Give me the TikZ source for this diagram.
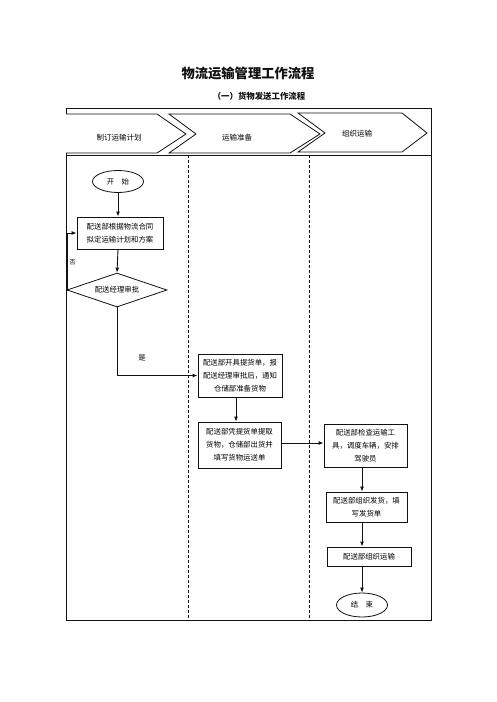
\documentclass[tikz,border=0pt]{standalone}
\usepackage{fontspec}
\usepackage{xcolor}
\usepackage{tikz}
\usetikzlibrary{shapes.geometric,arrows.meta,positioning,calc}
\newfontfamily\cjk{Noto Sans CJK SC}
\definecolor{FlowInk}  {HTML}{111111}
\definecolor{FlowWhite}{HTML}{FFFFFF}

\begin{document}
\begin{tikzpicture}[x=1pt,y=-1pt,
    stepbox/.style={draw=FlowInk,line width=0.9pt,fill=FlowWhite,align=center,
      font=\cjk\fontsize{7.4}{13}\selectfont,inner sep=1pt},
    termbox/.style={ellipse,draw=FlowInk,line width=0.8pt,fill=FlowWhite,inner sep=0pt,
      minimum width=51pt,minimum height=22pt,font=\cjk\fontsize{7.4}{9}\selectfont},
    checkbox/.style={diamond,draw=FlowInk,line width=0.8pt,fill=FlowWhite,aspect=2.9,inner sep=0pt,
      minimum width=100pt,minimum height=34pt,font=\cjk\fontsize{7.4}{9}\selectfont},
    flow/.style={draw=FlowInk,line width=0.9pt,-{Latex[length=5pt,width=4pt]}},
    lane/.style={draw=FlowInk,line width=0.8pt,dash pattern=on 3pt off 2pt},
    chev/.style={draw=FlowInk,line width=0.8pt,fill=FlowWhite}]
  \useasboundingbox (0,0) rectangle (496,702);
  % Title
  \node[font=\cjk\bfseries\fontsize{13.3}{15}\selectfont,text=FlowInk] (title) at (248,73) {物流运输管理工作流程};
  \node[font=\cjk\bfseries\fontsize{8.4}{10}\selectfont,text=FlowInk] (subtitle) at (259,96) {（一）货物发送工作流程};
  % Frame and lanes
  \draw[FlowInk,line width=0.9pt] (66,108) rectangle (431,620);
  \draw[FlowInk,line width=0.9pt] (66,155) -- (431,155);
  \draw[lane] (188,155) -- (188,620);
  \draw[lane] (309,155) -- (309,620);
  % Lane headers
  \draw[chev] (66,114) -- (157,114) -- (186,134) -- (157,153) -- (66,153);
  \draw[chev] (169,114) -- (290,114) -- (320,134) -- (290,153) -- (169,153) -- (196,134) -- cycle;
  \draw[chev] (298,113) -- (402,113) -- (427,133) -- (402,152) -- (298,152) -- (325,133) -- cycle;
  \node[font=\cjk\fontsize{7.5}{9}\selectfont] (hplan) at (119,138) {制订运输计划};
  \node[font=\cjk\fontsize{7.5}{9}\selectfont] (hprep) at (237,138) {运输准备};
  \node[font=\cjk\fontsize{7.5}{9}\selectfont] (hrun)  at (357,134) {组织运输};
  % Steps
  \node[termbox] (start) at (118,181.5) {开\quad 始};
  \node[stepbox,minimum width=86pt,minimum height=32pt] (plan) at (120,233)
    {配送部根据物流合同\\拟定运输计划和方案};
  \node[checkbox] (approve) at (117,290) {配送经理审批};
  \node[stepbox,minimum width=84pt,minimum height=43pt] (order) at (240,375.5)
    {配送部开具提货单，报\\配送经理审批后，通知\\仓储部准备货物};
  \node[stepbox,minimum width=83pt,minimum height=46pt] (pick) at (239.5,445)
    {配送部凭提货单提取\\货物，仓储部出货并\\填写货物运送单};
  \node[stepbox,minimum width=83pt,minimum height=43pt] (check) at (365.5,445.5)
    {配送部检查运输工\\具，调度车辆，安排\\驾驶员};
  \node[stepbox,minimum width=81pt,minimum height=30pt] (ship) at (366.5,507)
    {配送部组织发货，填\\写发货单};
  \node[stepbox,minimum width=84pt,minimum height=19pt] (haul) at (369,556.5)
    {配送部组织运输};
  \node[termbox,minimum height=24pt] (stop) at (362,605) {结\quad 束};
  % Connectors
  \draw[flow] (start.south) -- (plan.north -| start);
  \draw[flow] (plan.south -| start) -- (approve.north);
  \draw[flow] (approve.west) -- ++(1,0) |- (plan.west);
  \node[font=\cjk\fontsize{6}{7}\selectfont] (no) at (72.5,262) {否};
  \draw[flow] (approve.south) |- (order.west);
  \node[font=\cjk\fontsize{7.4}{9}\selectfont] (yes) at (142,358) {是};
  \draw[flow] (order.south -| 236,0) -- (pick.north -| 236,0);
  \draw[flow] (pick.east |- 0,443) -- (check.west |- 0,443);
  \draw[flow] (check.south -| stop) -- (ship.north -| stop);
  \draw[flow] (ship.south -| stop) -- (haul.north -| stop);
  \draw[flow] (haul.south -| stop) -- (stop.north);
\end{tikzpicture}
\end{document}
